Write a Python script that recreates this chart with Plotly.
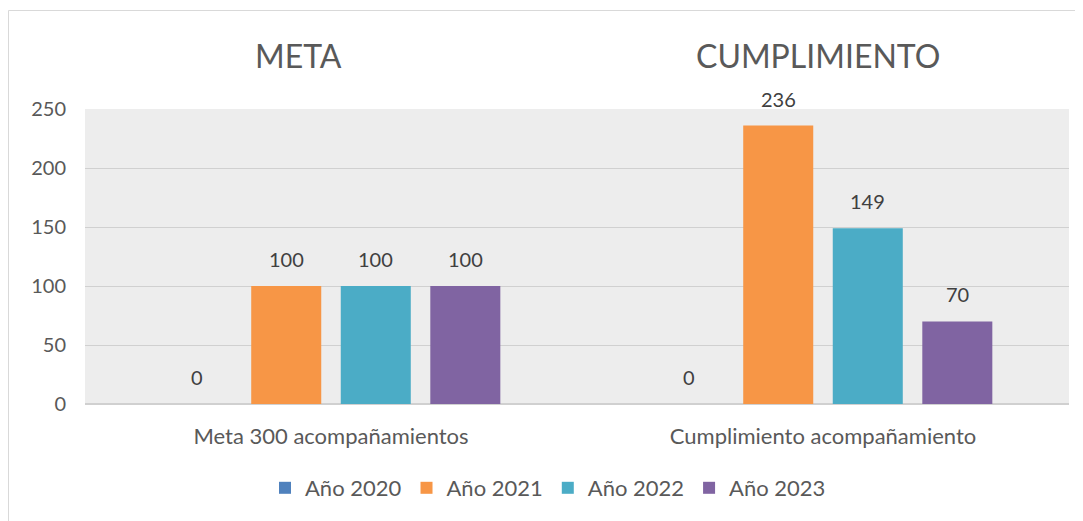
import plotly.graph_objects as go

categories = ["Meta 300 acompañamientos", "Cumplimiento acompañamiento"]
series_names = ["Año 2020", "Año 2021", "Año 2022", "Año 2023"]
series_values = {
    "Año 2020": [0, 0],
    "Año 2021": [100, 236],
    "Año 2022": [100, 149],
    "Año 2023": [100, 70],
}
colors = ["#4F81BD", "#F79646", "#4BACC6", "#8064A2"]
y_ticks = [0, 50, 100, 150, 200, 250]
group_titles = ["META", "CUMPLIMIENTO"]

FONT = "Lato"
TXT = "#595959"
bargap = 0.272
bargroupgap = 0.218

# page body has an 8px margin; figure coordinates are page coords minus 8
OFF = 8
W, H = 1083 - OFF, 521 - OFF
PL, PR, PT, PB = 85 - OFF, 1069 - OFF, 109 - OFF, 404 - OFF
PW, PH = PR - PL, PB - PT


def px(xp):
    return (xp - OFF - PL) / PW


def py(yp):
    return (PB - (yp - OFF)) / PH


x_pos = list(range(len(categories)))
fig = go.Figure()
for name, col in zip(series_names, colors):
    fig.add_trace(go.Bar(
        x=x_pos, y=series_values[name], name=name,
        marker=dict(color=col, line=dict(width=0)),
    ))

# data labels above each bar, positioned from the data
n = len(series_names)
slot = (1 - bargap) / n
annotations = []
for k, name in enumerate(series_names):
    off = (k - (n - 1) / 2) * slot
    for i, v in enumerate(series_values[name]):
        annotations.append(dict(
            x=x_pos[i] + off, y=v, xref="x", yref="y", text=str(v),
            showarrow=False, yanchor="middle", yshift=27,
            font=dict(family=FONT, size=20, color="#404040"),
        ))

# group titles
for title, xc in zip(group_titles, [298, 818]):
    annotations.append(dict(x=px(xc), y=py(55), xref="paper", yref="paper",
                            text=title, showarrow=False, xanchor="center", yanchor="middle",
                            font=dict(family=FONT, size=32, color=TXT)))

fig.update_layout(
    width=W, height=H,
    margin=dict(l=PL, r=W - PR, t=PT, b=H - PB),
    paper_bgcolor="white",
    plot_bgcolor="#ededed",
    barmode="group", bargap=bargap, bargroupgap=bargroupgap,
    font=dict(family=FONT, size=20, color=TXT),
    showlegend=True,
    legend=dict(orientation="h", x=px(548), xanchor="center",
                y=py(488), yanchor="middle",
                font=dict(family=FONT, size=22, color=TXT),
                itemwidth=30, bgcolor="rgba(0,0,0,0)"),
    annotations=annotations,
    shapes=[dict(type="rect", xref="paper", yref="paper",
                 x0=px(8.5), x1=px(1100),
                 y0=py(540), y1=py(10.5),
                 line=dict(color="#d9d9d9", width=1), layer="below")],
    xaxis=dict(range=[-0.5, 1.5], tickvals=x_pos, ticktext=categories,
               showgrid=False, zeroline=False, showline=False,
               ticklabelstandoff=17, tickfont=dict(family=FONT, size=22, color=TXT),
               fixedrange=True),
    yaxis=dict(range=[0, 250], tickvals=y_ticks, showgrid=True, gridcolor="#d0d0d0",
               gridwidth=1, zeroline=True, zerolinecolor="#d0d0d0", showline=False,
               ticklabelstandoff=18, tickfont=dict(family=FONT, size=20, color=TXT),
               fixedrange=True),
)

fig.write_html("out.html")
